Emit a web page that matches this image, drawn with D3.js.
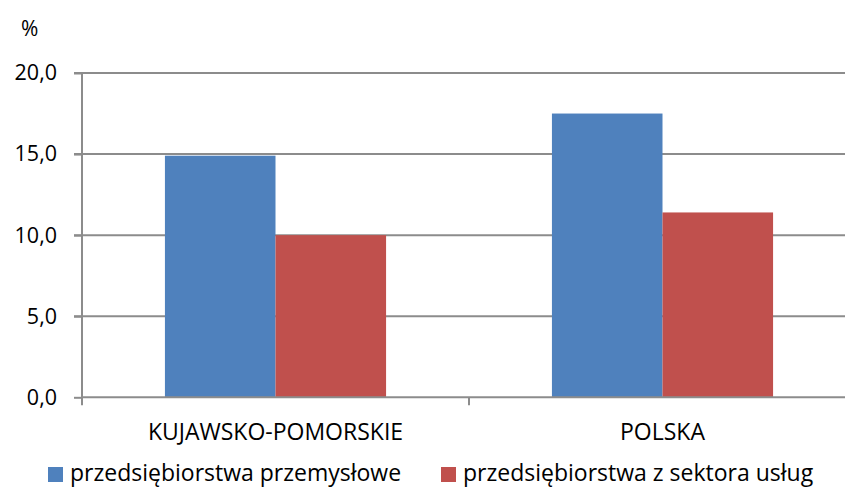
<!DOCTYPE html>
<html>
<head>
<meta charset="utf-8">
<script src="https://cdn.jsdelivr.net/npm/d3@7"></script>
<style>
  body { margin: 0; background: #fff; }
  text { font-family: "Open Sans", "Noto Sans", sans-serif; fill: #000; }
</style>
</head>
<body>
<div id="chart"></div>
<script>
const categories = ["KUJAWSKO-POMORSKIE", "POLSKA"];
const seriesNames = ["przedsiębiorstwa przemysłowe", "przedsiębiorstwa z sektora usług"];
const industry = [14.9, 17.5];
const services = [10.0, 11.4];
const yTicks = [0, 5, 10, 15, 20];
const colors = ["#4F81BD", "#C0504D"];

const width = 845;
const height = 487;
const margin = { top: 73, right: -11, bottom: 90, left: 82 };

const svg = d3.select("#chart").append("svg").attr("width", width).attr("height", height);

const x0 = d3.scaleBand().domain(categories).range([margin.left, width - margin.right]).paddingInner(0).paddingOuter(0);
const x1 = d3.scaleBand().domain(seriesNames).range([0, x0.bandwidth()]).paddingInner(0).paddingOuter(0.75);
const y = d3.scaleLinear().domain([0, 20]).range([height - margin.bottom + 0.3, margin.top]);

// gridlines
svg.append("g")
  .selectAll("line")
  .data(yTicks.slice(1))
  .join("line")
  .attr("x1", margin.left - 8)
  .attr("x2", width)
  .attr("y1", (d) => y(d))
  .attr("y2", (d) => y(d))
  .attr("stroke", "#8c8c8c")
  .attr("stroke-width", 2);

// bars
const rows = categories.map((c, i) => ({ cat: c, values: [industry[i], services[i]] }));
svg.append("g")
  .selectAll("g")
  .data(rows)
  .join("g")
  .attr("transform", (d) => `translate(${x0(d.cat)},0)`)
  .selectAll("rect")
  .data((d) => d.values.map((v, j) => ({ name: seriesNames[j], v, j })))
  .join("rect")
  .attr("x", (d) => x1(d.name))
  .attr("width", x1.bandwidth())
  .attr("y", (d) => y(d.v))
  .attr("height", (d) => y(0) - y(d.v))
  .attr("fill", (d) => colors[d.j]);

// y axis
const yAxis = d3.axisLeft(y).tickValues(yTicks).tickSize(8).tickPadding(17)
  .tickFormat((d) => d3.format(".1f")(d).replace(".", ","));
const gy = svg.append("g").attr("transform", `translate(${margin.left},0)`).call(yAxis);
gy.attr("font-family", null).attr("font-size", null);
gy.select(".domain").attr("stroke", "#8c8c8c").attr("stroke-width", 2).attr("d", `M0,${y(20)}V${y(0) + 8}`);
gy.selectAll(".tick line").attr("stroke", "#8c8c8c").attr("stroke-width", 2);
gy.selectAll(".tick text").style("font-size", "21.5px").attr("fill", "#000");

// x axis
const gx = svg.append("g").attr("transform", `translate(0,${y(0)})`);
gx.append("line").attr("x1", margin.left).attr("x2", width).attr("stroke", "#8c8c8c").attr("stroke-width", 2);
gx.selectAll(".sep")
  .data(categories.slice(1))
  .join("line")
  .attr("x1", (d) => x0(d))
  .attr("x2", (d) => x0(d))
  .attr("y1", 0)
  .attr("y2", 8)
  .attr("stroke", "#8c8c8c")
  .attr("stroke-width", 2);
gx.selectAll(".lbl")
  .data(categories)
  .join("text")
  .attr("x", (d) => x0(d) + x0.bandwidth() / 2)
  .attr("y", 43)
  .attr("text-anchor", "middle")
  .style("font-size", "23px")
  .text((d) => d);

// unit label
svg.append("text").attr("x", 21).attr("y", 36).style("font-size", "21px").text("%");

// legend
const legendX = [48, 441];
const lg = svg.append("g")
  .selectAll("g")
  .data(seriesNames)
  .join("g")
  .attr("transform", (d, i) => `translate(${legendX[i]},467)`);
lg.append("rect").attr("width", 15).attr("height", 15).attr("fill", (d, i) => colors[i]);
lg.append("text").attr("x", 22).attr("y", 14).style("font-size", "23px").text((d) => d);
</script>
</body>
</html>
